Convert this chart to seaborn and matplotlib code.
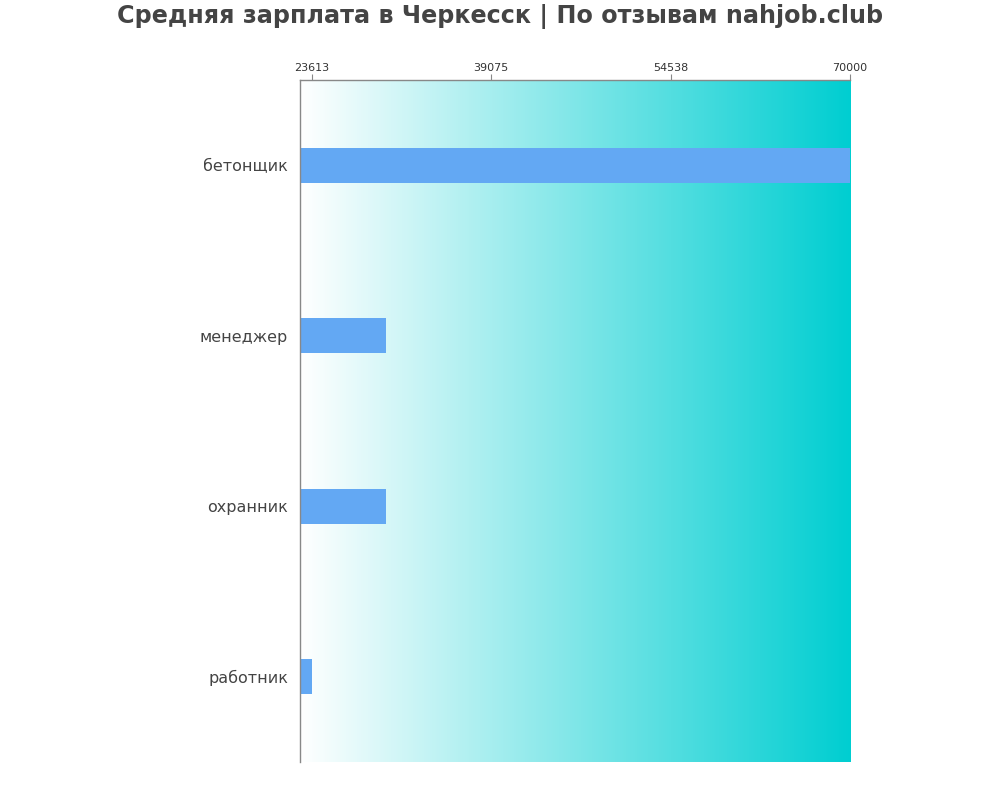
import numpy as np
import pandas as pd
import seaborn as sns
from matplotlib import pyplot as plt
from matplotlib import colors

professions = ['бетонщик', 'менеджер', 'охранник', 'работник']
salaries = [70000, 30000, 30000, 23613]
tick_values = [23613, 39075, 54538, 70000]
title = 'Средняя зарплата в Черкесск | По отзывам nahjob.club'

df = pd.DataFrame({'profession': professions, 'salary': salaries})

sns.set_style('white')
plt.rcParams['font.family'] = ['DejaVu Sans']

fig = plt.figure(figsize=(10, 8), dpi=100)
ax = fig.add_axes([0.3, 0.0475, 0.55, 0.8525])

x_min, x_max = 22600, 70000

# gradient background white -> turquoise
cmap = colors.LinearSegmentedColormap.from_list('bg', ['#ffffff', '#00ced1'])
grad = np.linspace(0, 1, 256).reshape(1, -1)
ax.imshow(grad, cmap=cmap, aspect='auto', extent=[x_min, x_max, 3.5, -0.5], zorder=0)

sns.barplot(data=df, x='salary', y='profession', orient='h', color='#63a8f3',
            width=0.205, saturation=1, linewidth=0, ax=ax, zorder=2)

ax.set_xlim(x_min, x_max)
ax.set_ylim(3.5, -0.5)
ax.xaxis.tick_top()
ax.set_xticks(tick_values)
ax.set_xticklabels([str(v) for v in tick_values], fontsize=8, color='#333333')
ax.tick_params(axis='x', length=4, color='#888888', pad=1)
ax.tick_params(axis='y', length=0, labelsize=11.5, labelcolor='#444444', pad=8.5)
ax.set_xlabel('')
ax.set_ylabel('')
for s in ['right', 'bottom']:
    ax.spines[s].set_visible(False)
for s in ['left', 'top']:
    ax.spines[s].set_color('#888888')
    ax.spines[s].set_linewidth(1)

fig.suptitle(title, fontsize=17.2, fontweight='bold', color='#444444', y=0.995)

plt.savefig('out.png', dpi=100)
